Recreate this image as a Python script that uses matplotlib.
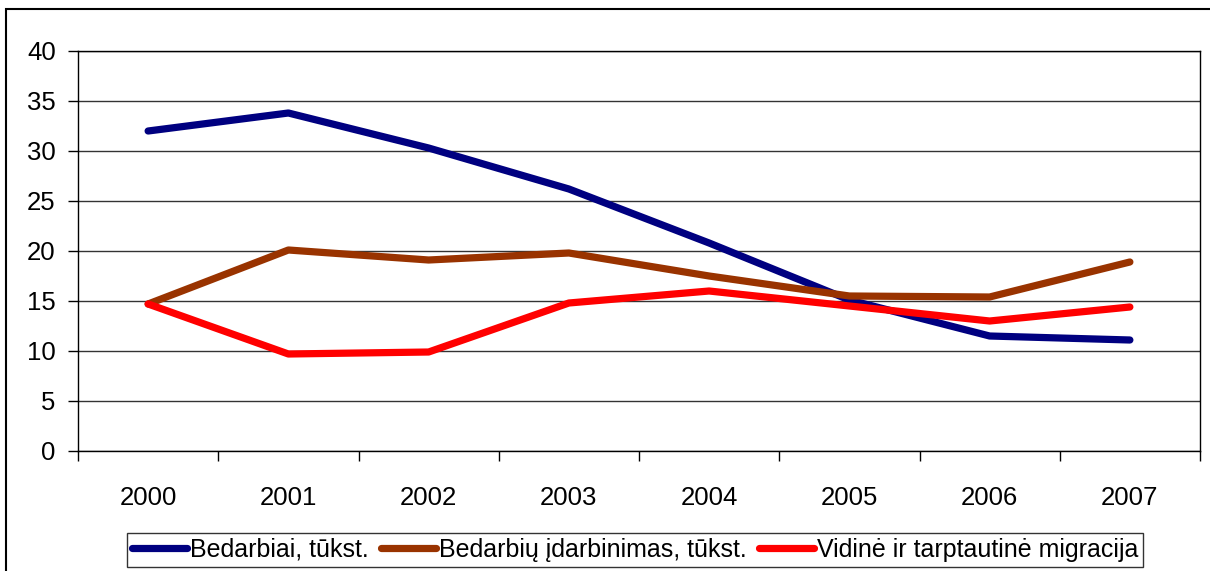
import matplotlib.pyplot as plt
from matplotlib.patches import Rectangle
from matplotlib.ticker import FixedLocator, NullFormatter, FixedFormatter

plt.rcParams['font.family'] = ['Liberation Sans', 'DejaVu Sans']

years = ['2000', '2001', '2002', '2003', '2004', '2005', '2006', '2007']
bedarbiai = [32.0, 33.8, 30.3, 26.2, 20.8, 15.1, 11.5, 11.1]
isdarbinimas = [14.7, 20.1, 19.1, 19.8, 17.5, 15.5, 15.4, 18.9]
migracija = [14.7, 9.7, 9.9, 14.8, 16.0, 14.5, 13.0, 14.4]

labels = ['Bedarbiai, tūkst.', 'Bedarbių įdarbinimas, tūkst.', 'Vidinė ir tarptautinė migracija']
colors = ['#000080', '#993300', '#FF0000']

fig = plt.figure(figsize=(12.1, 5.71), dpi=100)
ax = fig.add_axes([78 / 1210, 1 - 451 / 571, (1200 - 78) / 1210, 400 / 571])

# outer chart frame
fig.patches.append(Rectangle((6 / 1210, -0.1), 1.2, 1 - 9 / 571 + 0.1,
                             transform=fig.transFigure, fill=False,
                             edgecolor='black', linewidth=1.5))

x = range(len(years))
for vals, lab, col in zip([bedarbiai, isdarbinimas, migracija], labels, colors):
    ax.plot(x, vals, color=col, linewidth=5.2, solid_capstyle='round',
            solid_joinstyle='round', label=lab)

ax.set_xlim(-0.5, len(years) - 0.5)
ax.set_ylim(0, 40)
ax.set_yticks(range(0, 41, 5))
ax.yaxis.grid(True, color='#333333', linewidth=1)
ax.set_axisbelow(True)

# ticks between categories, labels at centers
ax.xaxis.set_major_locator(FixedLocator([i - 0.5 for i in range(len(years) + 1)]))
ax.xaxis.set_major_formatter(NullFormatter())
ax.xaxis.set_minor_locator(FixedLocator(list(x)))
ax.xaxis.set_minor_formatter(FixedFormatter(years))
ax.tick_params(axis='x', which='major', length=7, width=1, direction='out')
ax.tick_params(axis='x', which='minor', length=0, pad=25, labelsize=18.5)
ax.tick_params(axis='y', length=7, width=1, pad=9, labelsize=18.5)

for s in ax.spines.values():
    s.set_color('black')
    s.set_linewidth(1)

leg = fig.legend(loc='center', bbox_to_anchor=(635 / 1210, 1 - 550 / 571),
                 ncol=3, fontsize=18, frameon=True, fancybox=False,
                 edgecolor='black', handlelength=2.2, handletextpad=0.12,
                 columnspacing=0.5, borderpad=0.2, borderaxespad=0)
leg.get_frame().set_linewidth(1)

fig.savefig('out.png', dpi=100)
